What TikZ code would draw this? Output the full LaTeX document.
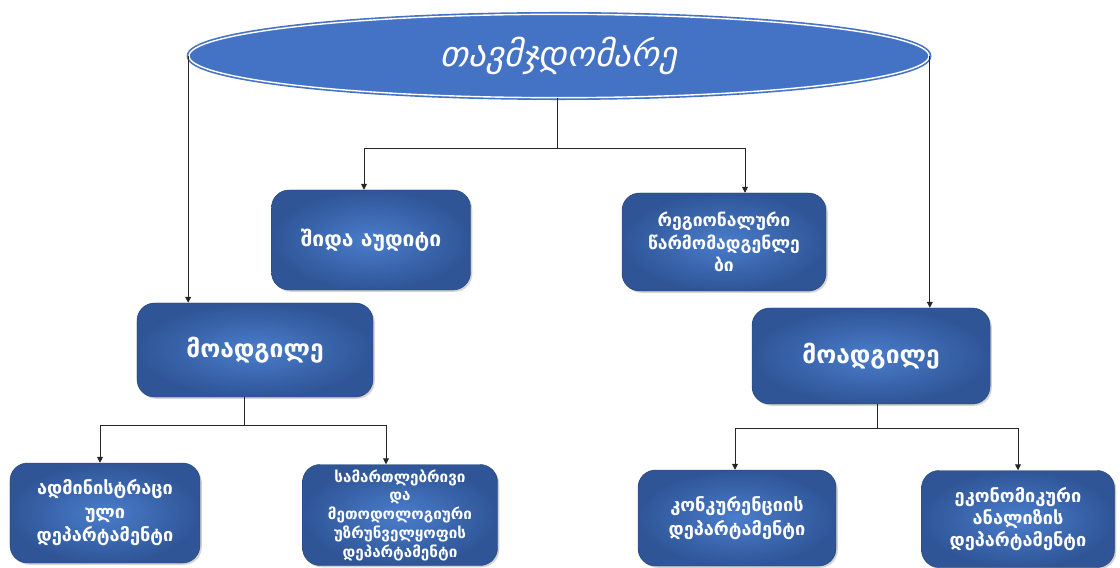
\documentclass[tikz,border=0pt]{standalone}
\usepackage{fontspec}
\newfontfamily\geo{DejaVu Sans}
\usetikzlibrary{shapes.geometric,shadows,arrows.meta}
\definecolor{boxedge}{HTML}{2F5597}
\definecolor{boxmid}{HTML}{4A7DCB}
\definecolor{ellfill}{HTML}{4472C4}
\tikzset{
  unitbox/.style={rounded corners=15pt, draw=boxedge!80!black, line width=0.4pt,
    inner color=boxmid, outer color=boxedge,
    drop shadow={opacity=0.35, shadow xshift=1.5pt, shadow yshift=-1.5pt},
    text=white, align=center, font=\geo\bfseries, inner sep=2pt},
  conn/.style={draw=black!85, line width=0.8pt},
  arr/.style={conn, -{Triangle[length=5pt,width=5pt]}},
  title/.style={ellipse, fill=ellfill, draw=ellfill, double=white, double distance=1.2pt,
    line width=1.4pt, text=white, font=\geo\itshape\fontsize{30}{34}\selectfont}
}
\begin{document}
\begin{tikzpicture}[x=0.03cm, y=-0.03cm]
\useasboundingbox (0,0) rectangle (1120,568);
\node[title, minimum width=22.2cm, minimum height=2.5cm] (chair) at (559,56) {თავმჯდომარე};

\node[unitbox, minimum width=5.97cm, minimum height=3.0cm, font=\geo\bfseries\fontsize{18}{21}\selectfont] (audit) at (371,240) {შიდა აუდიტი};
\node[unitbox, minimum width=6.12cm, minimum height=2.94cm, font=\geo\bfseries\fontsize{15}{19}\selectfont] (region) at (724,242) {რეგიონალური\\წარმომადგენლე\\ბი};
\node[unitbox, minimum width=7.08cm, minimum height=2.82cm, font=\geo\bfseries\fontsize{21}{25}\selectfont] (depL) at (255,350) {მოადგილე};
\node[unitbox, minimum width=7.14cm, minimum height=2.88cm, font=\geo\bfseries\fontsize{21}{25}\selectfont] (depR) at (871,356) {მოადგილე};
\node[unitbox, minimum width=5.7cm, minimum height=3.0cm, font=\geo\bfseries\fontsize{15.5}{20}\selectfont] (adm) at (105,513) {ადმინისტრაცი\\ული\\დეპარტამენტი};
\node[unitbox, minimum width=5.85cm, minimum height=3.03cm, font=\geo\bfseries\fontsize{13}{16}\selectfont] (law) at (400,515) {სამართლებრივი\\და\\მეთოდოლოგიური\\უზრუნველყოფის\\დეპარტამენტი};
\node[unitbox, minimum width=5.94cm, minimum height=2.88cm, font=\geo\bfseries\fontsize{15.5}{21}\selectfont] (comp) at (737,518) {კონკურენციის\\დეპარტამენტი};
\node[unitbox, minimum width=5.79cm, minimum height=2.91cm, font=\geo\bfseries\fontsize{15.5}{19}\selectfont] (econ) at (1018,519) {ეკონომიკური\\ანალიზის\\დეპარტამენტი};

% top fork
\coordinate (jT) at (557,148);
\coordinate (xA) at (364,0);
\coordinate (xR) at (745,0);
\draw[conn] (chair.south -| jT) -- (jT);
\draw[arr] (jT) -| (xA |- audit.north);
\draw[arr] (jT) -| (xR |- region.north);
% long side lines
\draw[arr] (chair.west) -- (chair.west |- depL.north);
\draw[arr] (chair.east) -- (chair.east |- depR.north);
% left deputy fork
\coordinate (jL) at (244,425);
\coordinate (xL1) at (100,0);
\coordinate (xL2) at (386,0);
\draw[conn] (depL.south -| jL) -- (jL);
\draw[arr] (jL) -| (xL1 |- adm.north);
\draw[arr] (jL) -| (xL2 |- law.north);
% right deputy fork
\coordinate (jR) at (877,428);
\coordinate (xR1) at (735,0);
\coordinate (xR2) at (1018,0);
\draw[conn] (depR.south -| jR) -- (jR);
\draw[arr] (jR) -| (xR1 |- comp.north);
\draw[arr] (jR) -| (xR2 |- econ.north);
\end{tikzpicture}
\end{document}
